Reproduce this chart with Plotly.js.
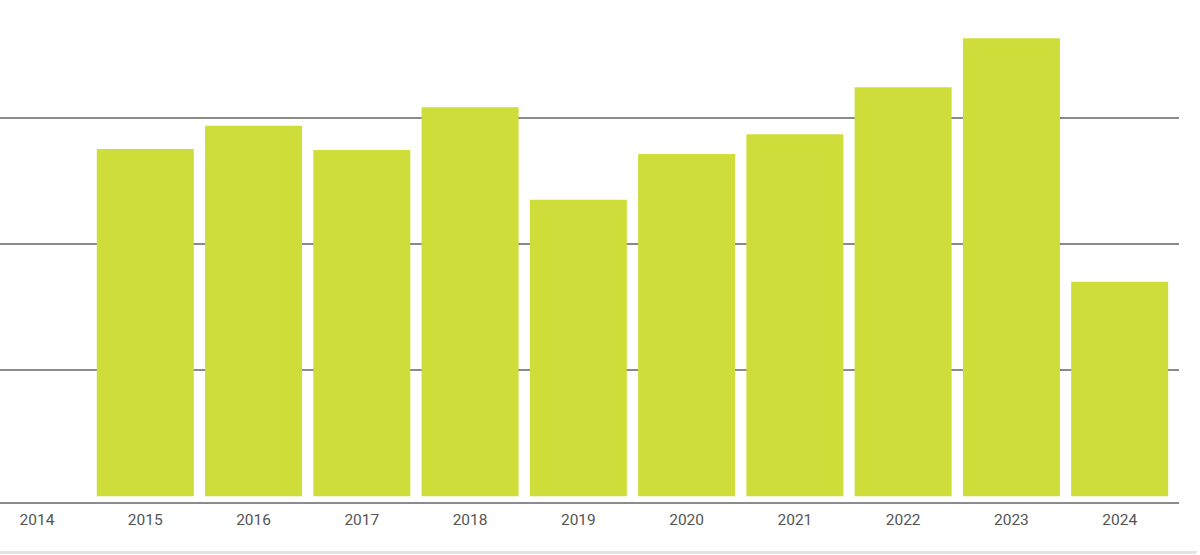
<!DOCTYPE html>
<html>
<head>
<meta charset="utf-8">
<script src="https://cdn.plot.ly/plotly-3.0.1.min.js"></script>
<style>
  html, body { margin: 0; padding: 0; background: #ffffff; }
  #wrap { position: relative; width: 1200px; height: 555px; overflow: hidden; }
  #chart { position: absolute; left: 0; top: 0; width: 1200px; height: 555px; }
  #edge { position: absolute; left: 0; top: 551px; width: 1197px; height: 3px; background: #e3e3e3; border-bottom-right-radius: 4px; }
</style>
</head>
<body>
<div id="wrap">
  <div id="chart"></div>
  <div id="edge"></div>
</div>
<script>
// Data (arbitrary units; gridlines at 100, 200, 300)
const years = ["2014", "2015", "2016", "2017", "2018", "2019", "2020", "2021", "2022", "2023", "2024"];
const values = [null, 275.6, 294.1, 274.8, 308.7, 235.4, 271.7, 287.3, 324.6, 363.5, 170.3];
const gridValues = [100, 200, 300];

const trace = {
  type: "bar",
  x: years,
  y: values,
  marker: { color: "#cfdd3b", line: { width: 0 } },
  hoverinfo: "x+y"
};

const layout = {
  width: 1200,
  height: 555,
  margin: { l: 0, r: 21, t: 0, b: 53, pad: 0 },
  paper_bgcolor: "rgba(0,0,0,0)",
  plot_bgcolor: "rgba(0,0,0,0)",
  bargap: 0.104,
  showlegend: false,
  font: { family: "Roboto, sans-serif", size: 15, color: "#555555" },
  xaxis: {
    type: "category",
    range: [-0.342, 10.548],
    showgrid: false,
    zeroline: false,
    showline: true,
    linecolor: "#8c8c8c",
    linewidth: 2,
    ticks: "",
    ticklabelstandoff: 2,
    tickfont: { family: "Roboto, sans-serif", size: 15.5, color: "#555555" },
    fixedrange: true
  },
  yaxis: {
    range: [-4.5, 393.9],
    tickvals: gridValues,
    showticklabels: false,
    showgrid: true,
    gridcolor: "#8a8a8a",
    gridwidth: 2,
    zeroline: false,
    showline: false,
    ticks: "",
    fixedrange: true
  }
};

Plotly.newPlot("chart", [trace], layout, { displayModeBar: false, staticPlot: true });
</script>
</body>
</html>
